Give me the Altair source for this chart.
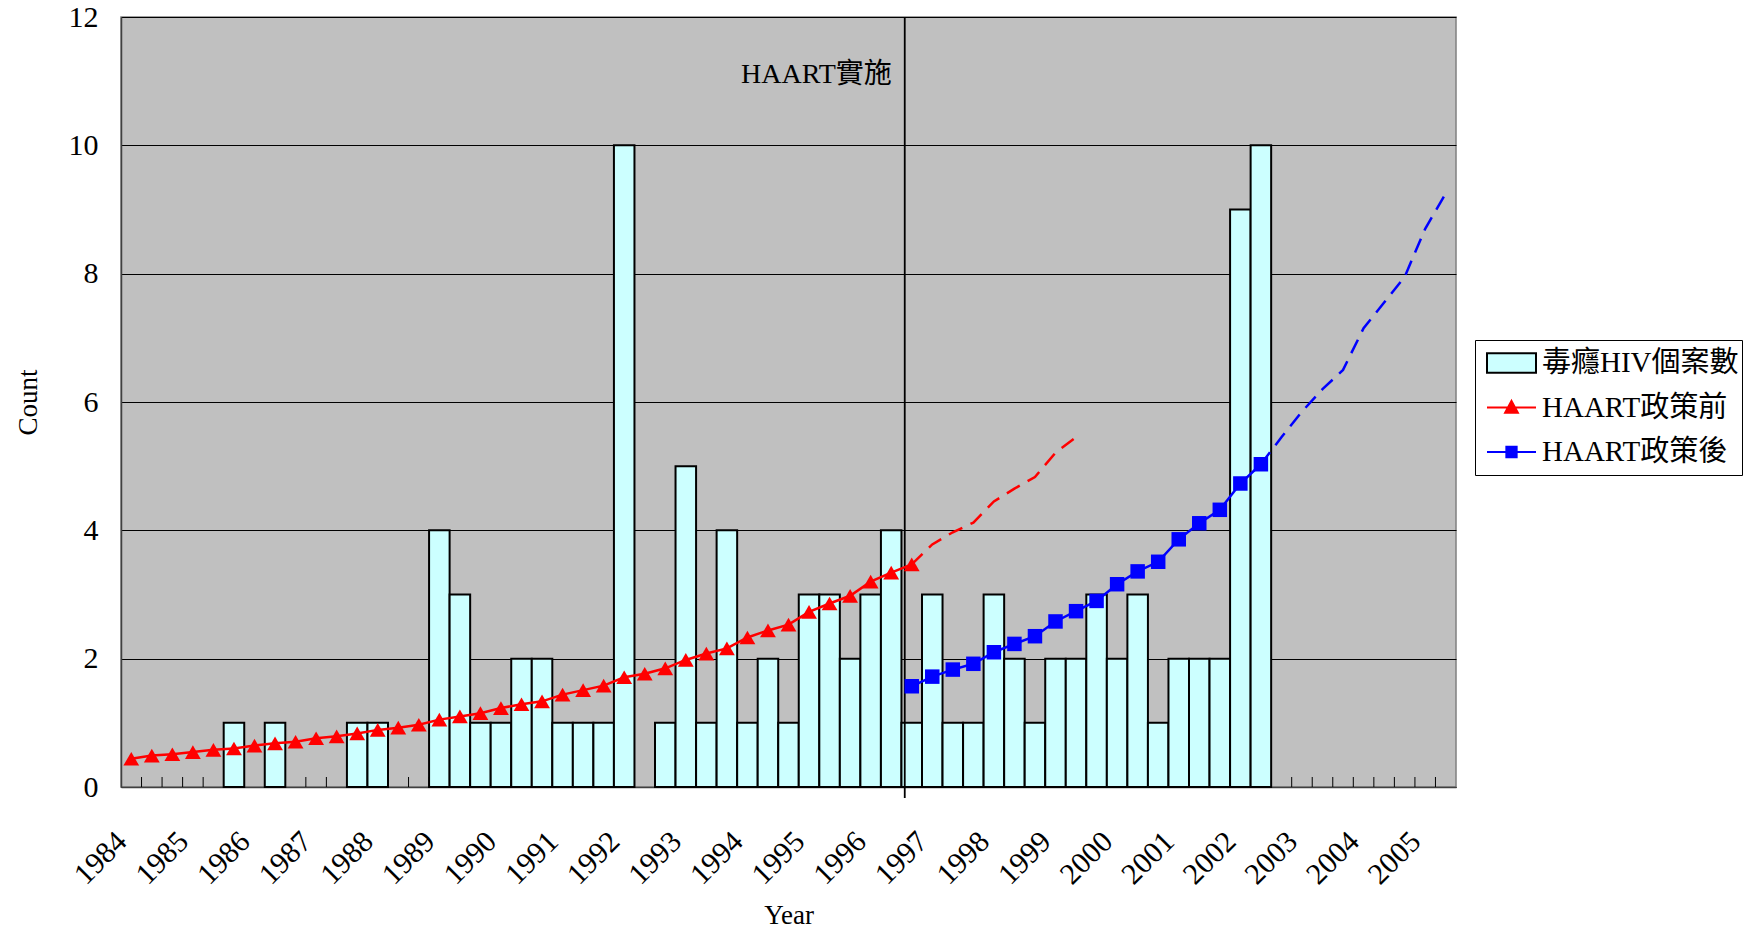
import altair as alt
import pandas as pd

FONT = "Liberation Serif, Noto Sans CJK TC"

# Reporting periods are thirds of a year (4 months); period 0 = first third of 1984.
year_labels = ["1984", "1985", "1986", "1987", "1988", "1989", "1990", "1991",
               "1992", "1993", "1994", "1995", "1996", "1997", "1998", "1999",
               "2000", "2001", "2002", "2003", "2004", "2005"]
periods_per_year = 3
n_periods = 65

# Drug-use HIV cases per period (periods 0..55)
case_counts = [0, 0, 0, 0, 0, 1, 0, 1, 0, 0, 0, 1, 1, 0, 0, 4, 3, 1, 1, 2,
               2, 1, 1, 1, 10, 0, 1, 5, 1, 4, 1, 2, 1, 3, 3, 2, 3, 4, 1, 3,
               1, 1, 3, 2, 1, 2, 2, 3, 2, 3, 1, 2, 2, 2, 9, 10]

# Trend before HAART (fitted, periods 0..38) and its projection (38..46)
pre_start = 0
pre_fit = [0.44, 0.49, 0.51, 0.545, 0.58, 0.60, 0.645, 0.68, 0.705, 0.76,
           0.79, 0.835, 0.89, 0.925, 0.97, 1.05, 1.10, 1.15, 1.23, 1.29,
           1.335, 1.44, 1.51, 1.58, 1.71, 1.765, 1.85, 1.98, 2.08, 2.16,
           2.33, 2.44, 2.53, 2.73, 2.86, 2.98, 3.20, 3.34, 3.47]
pre_proj_start = 38
pre_projection = [3.47, 3.78, 3.97, 4.12, 4.45, 4.65, 4.83, 5.21, 5.45]

# Trend after HAART (fitted, periods 38..55) and its projection (55..64)
post_start = 38
post_fit = [1.57, 1.72, 1.83, 1.92, 2.10, 2.23, 2.35, 2.58, 2.74, 2.90,
            3.16, 3.36, 3.51, 3.86, 4.11, 4.32, 4.73, 5.03]
post_proj_start = 55
post_projection = [5.03, 5.45, 5.85, 6.2, 6.5, 7.15, 7.55, 7.95, 8.7, 9.25]

haart_start = 38.16
haart_label = "HAART實施"

series_names = ["毒癮HIV個案數", "HAART政策前", "HAART政策後"]
series_fill = ["#CCFFFF", "#FF0000", "#0000FF"]
series_stroke = ["#000000", "#FF0000", "#0000FF"]
# legend glyphs: wide box, line with triangle, line with square
series_glyph = [
    "M-1,-0.4H1V0.4H-1Z",
    "M-1,0H1M0,-0.27L0.26,0.21H-0.26Z",
    "M-1,0H1M-0.21,-0.21H0.21V0.21H-0.21Z",
]

W, H = 1335, 770

x_scale = alt.Scale(domain=[0, n_periods], nice=False, zero=False)
y_scale = alt.Scale(domain=[0, 12], nice=False, zero=True)

label_array = "[" + ",".join("'" + y + "'" for y in year_labels) + "]"
x_axis = alt.Axis(
    values=[i * periods_per_year for i in range(len(year_labels))],
    labelExpr=f"{label_array}[round(datum.value / {periods_per_year})]",
    labelAngle=-45, labelAlign="right", labelBaseline="top",
    labelPadding=39, labelOffset=-10, labelOverlap=False, labelBound=False,
    labelFlush=False, labelFont=FONT, labelFontSize=30, labelColor="black",
    ticks=False, grid=False, domainColor="#404040", domainWidth=1.5,
    titleFont=FONT, titleFontSize=27, titleFontWeight="normal", titleColor="black",
    titleY=128, titleBaseline="middle",
)
y_axis = alt.Axis(
    values=[0, 2, 4, 6, 8, 10, 12],
    grid=True, gridColor="black", gridWidth=1, ticks=False,
    domainColor="#404040", domainWidth=1.5,
    labelFont=FONT, labelFontSize=30, labelPadding=23, labelColor="black",
    titleFont=FONT, titleFontSize=27, titleFontWeight="normal", titleColor="black",
    titleAngle=270, titleX=-93, titleY=385, titleAlign="center", titleBaseline="middle",
)


def X(field):
    return alt.X(field, type="quantitative", scale=x_scale, axis=x_axis, title="Year")


def Y(field):
    return alt.Y(field, type="quantitative", scale=y_scale, axis=y_axis, title="Count")


# small inward ticks at every period boundary
tick_df = pd.DataFrame({"period": list(range(1, n_periods))})
inner_ticks = alt.Chart(tick_df).mark_rule(color="black", strokeWidth=1).encode(
    x=X("period"), y=alt.value(H), y2=alt.value(H - 10)
)

bars_df = pd.DataFrame({"period": list(range(len(case_counts))), "count": case_counts})
bars = (
    alt.Chart(bars_df)
    .transform_filter("datum.count > 0")
    .transform_calculate(end="datum.period + 1")
    .mark_bar(fill="#CCFFFF", stroke="black", strokeWidth=2)
    .encode(x=X("period"), x2="end:Q", y=Y("count"), y2=alt.datum(0))
)

haart_df = pd.DataFrame({"period": [haart_start], "label": [haart_label]})
haart_rule = alt.Chart(haart_df).mark_rule(color="black", strokeWidth=1.8).encode(
    x=X("period"), y=alt.value(0), y2=alt.value(H + 11)
)
haart_text = alt.Chart(haart_df).mark_text(
    align="right", baseline="alphabetic", dx=-13, font=FONT, fontSize=28, color="black"
).encode(x=X("period"), y=alt.value(66), text="label:N")


def series_df(start, values):
    return pd.DataFrame({"period": list(range(start, start + len(values))), "value": values})


def trend_line(df, color, dashed):
    kw = dict(color=color, strokeWidth=2.5)
    if dashed:
        kw["strokeDash"] = [15, 9]
    return (
        alt.Chart(df)
        .transform_calculate(mid="datum.period + 0.5")
        .mark_line(**kw)
        .encode(x=X("mid"), y=Y("value"))
    )


def markers(df, color, shape, size):
    return (
        alt.Chart(df)
        .transform_calculate(mid="datum.period + 0.5")
        .mark_point(shape=shape, filled=True, color=color, size=size, opacity=1)
        .encode(x=X("mid"), y=Y("value"))
    )


pre_df = series_df(pre_start, pre_fit)
pre_proj_df = series_df(pre_proj_start, pre_projection)
post_df = series_df(post_start, post_fit)
post_proj_df = series_df(post_proj_start, post_projection)

legend = alt.Legend(
    title=None, orient="none", legendX=1354, legendY=323, direction="vertical",
    fillColor="white", strokeColor="black", padding=3, cornerRadius=0,
    symbolSize=2401, symbolStrokeWidth=2, symbolOffset=8, symbolOpacity=1,
    symbolFillColor="white", symbolStrokeColor="black",
    labelFont=FONT, labelFontSize=29, labelColor="black", labelLimit=400, labelOffset=5,
    clipHeight=40, rowPadding=4.5, labelExpr="datum.label + '\u00a0\u00a0'",
)
legend_df = pd.DataFrame({"series": series_names})
legend_layer = (
    alt.Chart(legend_df)
    .transform_filter("false")
    .mark_point(filled=True, strokeWidth=2)
    .encode(
        fill=alt.Fill("series:N", scale=alt.Scale(domain=series_names, range=series_fill), legend=legend),
        stroke=alt.Stroke("series:N", scale=alt.Scale(domain=series_names, range=series_stroke), legend=legend),
        shape=alt.Shape("series:N", scale=alt.Scale(domain=series_names, range=series_glyph), legend=legend),
    )
)

chart = (
    alt.layer(
        inner_ticks,
        bars,
        haart_rule,
        haart_text,
        trend_line(pre_df, "#FF0000", False),
        trend_line(pre_proj_df, "#FF0000", True),
        trend_line(post_df, "#0000FF", False),
        trend_line(post_proj_df, "#0000FF", True),
        markers(pre_df, "#FF0000", "triangle-up", 250),
        markers(post_df, "#0000FF", "square", 210),
        legend_layer,
    )
    .properties(
        width=W, height=H,
        padding={"left": 121, "top": 17, "right": 299, "bottom": 146},
        autosize=alt.AutoSizeParams(type="none"),
        background="white",
        view=alt.ViewBackground(fill="#C0C0C0", stroke="#808080", strokeWidth=1.5),
    )
    .configure_view(fill="#C0C0C0", stroke="#808080", strokeWidth=1.5)
)

chart.save("out.html", embed_options={"renderer": "svg", "actions": False})
